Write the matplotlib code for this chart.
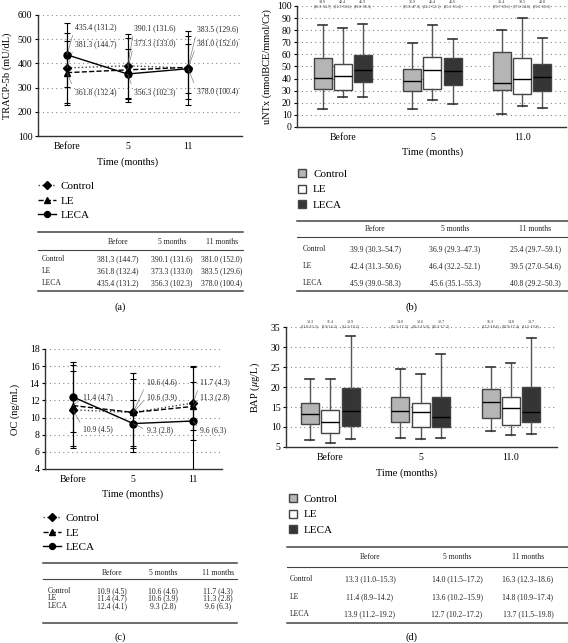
import matplotlib
matplotlib.use('Agg')
import matplotlib.pyplot as plt
from matplotlib.patches import Patch

plt.rcParams['font.family'] = ['Liberation Serif', 'DejaVu Serif']
plt.rcParams['mathtext.fontset'] = 'stix'

W, H = 568, 643

times = ['Before', '5', '11']
box_times = ['Before', '5', '11.0']
groups = ['Control', 'LE', 'LECA']
col_heads = ['Before', '5 months', '11 months']

# (a) TRACP-5b mean and SD; rows = Control, LE, LECA
tracp_mean = [[381.3, 390.1, 381.0], [361.8, 373.3, 383.5], [435.4, 356.3, 378.0]]
tracp_sd = [[144.7, 131.6, 152.0], [132.4, 133.0, 129.6], [131.2, 102.3, 100.4]]

# (c) OC mean and SD
oc_mean = [[10.9, 10.6, 11.7], [11.4, 10.6, 11.3], [12.4, 9.3, 9.6]]
oc_sd = [[4.5, 4.6, 4.3], [4.7, 3.9, 2.8], [4.1, 2.8, 6.3]]

# (b) uNTx median (IQR) as printed
ntx_med = [[39.9, 36.9, 25.4], [42.4, 46.4, 39.5], [45.9, 45.6, 40.8]]
ntx_lo = [[30.3, 29.3, 29.7], [31.3, 32.2, 27.0], [39.0, 35.1, 29.2]]
ntx_hi = [[54.7, 47.3, 59.1], [50.6, 52.1, 54.6], [58.3, 55.3, 50.3]]
# boxes as drawn: whisker low, q1, median, q3, whisker high
ntx_box = [
    [[14.6, 31.0, 40.5, 57.0, 84.6], [14.6, 29.8, 37.7, 47.9, 69.7], [11.0, 30.3, 36.6, 62.3, 80.4]],
    [[24.8, 30.9, 42.4, 52.0, 81.8], [22.0, 31.7, 46.8, 57.6, 84.6], [17.0, 27.0, 39.7, 57.3, 89.8]],
    [[24.8, 37.5, 47.1, 59.8, 84.8], [19.0, 35.0, 46.6, 56.7, 72.5], [16.0, 29.8, 41.6, 52.0, 73.6]],
]

# (d) BAP median (IQR) as printed
bap_med = [[13.3, 14.0, 16.3], [11.4, 13.6, 14.8], [13.9, 12.7, 13.7]]
bap_lo = [[11.0, 11.5, 12.3], [8.9, 10.2, 10.9], [11.2, 10.2, 11.5]]
bap_hi = [[15.3, 17.2, 18.6], [14.2, 15.9, 17.4], [19.2, 17.2, 19.8]]
bap_box = [
    [[6.7, 10.8, 13.2, 15.9, 22.1], [7.3, 11.3, 14.0, 17.6, 24.5], [8.9, 12.2, 16.2, 19.6, 25.1]],
    [[5.9, 8.6, 11.2, 14.2, 21.9], [7.1, 9.9, 13.7, 16.1, 23.3], [7.9, 10.6, 14.7, 17.4, 25.9]],
    [[7.1, 10.3, 14.0, 19.7, 32.7], [7.3, 10.0, 12.5, 17.6, 28.3], [8.2, 11.3, 13.7, 19.9, 32.2]],
]

fig = plt.figure(figsize=(W / 100, H / 100), dpi=100)


def rect(l, t, r, b):
    return [l / W, 1 - b / H, (r - l) / W, (b - t) / H]


# overlay in pixel coords for tables and captions
over = fig.add_axes([0, 0, 1, 1], zorder=-1)
over.set_xlim(0, W)
over.set_ylim(H, 0)
over.axis('off')


def style_axes(ax, box, yticks, ylabel, xlab_pos, ylab_x):
    l, t, r, b = box
    for s in ['top', 'right']:
        ax.spines[s].set_visible(False)
    for s in ['left', 'bottom']:
        ax.spines[s].set_color('#333333')
        ax.spines[s].set_linewidth(1)
    ax.set_yticks(yticks)
    ax.tick_params(axis='x', length=0, labelsize=7, pad=4)
    ax.tick_params(axis='y', length=2, labelsize=7, pad=2)
    for v in yticks[1:]:
        ax.axhline(v, color='#888888', ls=(0, (1, 3)), lw=0.8, zorder=0)
    ax.set_ylabel(ylabel, fontsize=7.5)
    ax.set_xlabel('Time (months)', fontsize=7.5)
    ax.yaxis.set_label_coords((ylab_x - l) / (r - l), 0.5)
    ax.xaxis.set_label_coords((xlab_pos[0] - l) / (r - l), (b - xlab_pos[1]) / (b - t))


def line_panel(box, mean, sd, ylim, yticks, ylabel, xlim, lab_y, lab_dx, xlab_pos, ylab_x, leg_pos):
    ax = fig.add_axes(rect(*box))
    specs = [('D', ':', '#444444', 4.5), ('^', '--', 'black', 5), ('o', '-', 'black', 5)]
    x = list(range(3))
    handles = []
    for g in range(3):
        mk, ls, lc, ms = specs[g]
        ax.errorbar(x, mean[g], yerr=sd[g], fmt='none', ecolor='black', elinewidth=0.8,
                    capsize=2, capthick=0.8, zorder=2)
        h, = ax.plot(x, mean[g], ls=ls, color=lc, lw=1, marker=mk, ms=ms,
                     mfc='black', mec='black', zorder=3)
        handles.append(h)
        for t in range(3):
            if lab_y[t][g] is None:
                continue
            ax.annotate(f'{mean[g][t]:.1f} ({sd[g][t]:.1f})', xy=(t, mean[g][t]),
                        xytext=(t + lab_dx[t], lab_y[t][g]), fontsize=5.5, va='center', ha='left',
                        color='#222222',
                        arrowprops=dict(arrowstyle='-', lw=0.4, color='#666666',
                                        shrinkA=1, shrinkB=0, relpos=(0, 0.5)))
    ax.set_xlim(*xlim)
    ax.set_ylim(*ylim)
    ax.set_xticks(x)
    ax.set_xticklabels(times)
    style_axes(ax, box, yticks, ylabel, xlab_pos, ylab_x)
    ax.legend(handles, groups, loc='upper left', bbox_to_anchor=(leg_pos[0] / W, 1 - leg_pos[1] / H),
              bbox_transform=fig.transFigure, frameon=False, fontsize=8, handlelength=1.6,
              handletextpad=0.4, labelspacing=0.45, borderpad=0, borderaxespad=0, markerscale=0.85)
    return ax


def box_panel(box, bx, med, lo, hi, ylim, yticks, ylabel, xlim, stat_y, xlab_pos, ylab_x, leg_pos):
    ax = fig.add_axes(rect(*box))
    fills = ['#b5b5b5', 'white', '#353535']
    offs = [-0.225, 0.0, 0.225]
    for g in range(3):
        stats = [dict(whislo=b[0], q1=b[1], med=b[2], q3=b[3], whishi=b[4], fliers=[]) for b in bx[g]]
        pos = [t + offs[g] for t in range(3)]
        ax.bxp(stats, positions=pos, widths=0.2, patch_artist=True, showfliers=False,
               manage_ticks=False,
               boxprops=dict(facecolor=fills[g], edgecolor='#444444', lw=1),
               medianprops=dict(color='black', lw=1),
               whiskerprops=dict(color='#555555', lw=1),
               capprops=dict(color='#333333', lw=1.2))
        for t in range(3):
            ax.text(pos[t], stat_y[0], f'{med[g][t]:.1f}', transform=ax.get_xaxis_transform(),
                    ha='center', va='center', fontsize=3, color='#333333')
            ax.text(pos[t], stat_y[1], f'({lo[g][t]:.1f}-{hi[g][t]:.1f})',
                    transform=ax.get_xaxis_transform(), ha='center', va='center', fontsize=3,
                    color='#333333')
    ax.set_xlim(*xlim)
    ax.set_ylim(*ylim)
    ax.set_xticks(range(3))
    ax.set_xticklabels(box_times)
    style_axes(ax, box, yticks, ylabel, xlab_pos, ylab_x)
    handles = [Patch(facecolor=fills[g], edgecolor='#444444', lw=1) for g in range(3)]
    ax.legend(handles, groups, loc='upper left', bbox_to_anchor=(leg_pos[0] / W, 1 - leg_pos[1] / H),
              bbox_transform=fig.transFigure, frameon=False, fontsize=8, handlelength=0.75,
              handleheight=0.75, handletextpad=0.6, labelspacing=0.5, borderpad=0, borderaxespad=0)
    return ax


def table(x0, x1, lab_x, col_x, lines_y, head_y, rows_y, cells, caption, cap_xy):
    widths = [1.1, 0.8, 1.1]
    for ly, lw in zip(lines_y, widths):
        over.plot([x0, x1], [ly, ly], color='#444444', lw=lw)
    for cx, h in zip(col_x, col_heads):
        over.text(cx, head_y, h, ha='center', va='center', fontsize=5.5, color='#222222')
    for g in range(3):
        over.text(lab_x, rows_y[g], groups[g], ha='left', va='center', fontsize=5.5, color='#222222')
        for t in range(3):
            over.text(col_x[t], rows_y[g], cells[g][t], ha='center', va='center', fontsize=5.5,
                      color='#222222')
    over.text(cap_xy[0], cap_xy[1], caption, ha='center', va='center', fontsize=7.5)


# (a)
box_a = (38, 15, 242, 136)
line_panel(box_a, tracp_mean, tracp_sd, (100, 600), list(range(100, 601, 100)), 'TRACP-5b (mU/dL)',
           (-0.48, 2.89),
           [[480, 282, 550], [546, 484, 282], [484, 542, 286]], [0.13, 0.11, 0.15],
           (128, 157), 12, (38, 181))
cells_a = [[f'{tracp_mean[g][t]:.1f} ({tracp_sd[g][t]:.1f})' for t in range(3)] for g in range(3)]
table(38, 243, 42, [118, 172, 222], [232, 250, 291], 242, [259, 271, 283], cells_a, '(a)', (120, 307))

# (b)
box_b = (297, 6, 566, 127)
box_panel(box_b, ntx_box, ntx_med, ntx_lo, ntx_hi, (0, 100), list(range(0, 101, 10)),
          'uNTx (nmolBCE/mmol/Cr)', (-0.51, 2.49), (1.035, 0.997), (433, 147), 272, (298, 169))
cells_b = [[f'{ntx_med[g][t]:.1f} ({ntx_lo[g][t]:.1f}\u2013{ntx_hi[g][t]:.1f})' for t in range(3)]
           for g in range(3)]
table(297, 568, 303, [375, 455, 535], [221, 237, 291], 229, [249, 266, 283], cells_b, '(b)', (412, 307))

# (c)
box_c = (45, 349, 222, 469)
line_panel(box_c, oc_mean, oc_sd, (4, 18), list(range(4, 19, 2)), 'OC (ng/mL)', (-0.47, 2.48),
           [[8.7, 12.4, None], [14.1, 12.4, 8.5], [14.1, 12.4, 8.5]], [0.17, 0.23, 0.12],
           (133, 489), 20, (43, 513))
cells_c = [[f'{oc_mean[g][t]:.1f} ({oc_sd[g][t]:.1f})' for t in range(3)] for g in range(3)]
table(43, 237, 48, [112, 163, 218], [563, 579, 623], 573, [591, 598, 606], cells_c, '(c)', (120, 637))

# (d)
box_d = (286, 327, 557, 447)
box_panel(box_d, bap_box, bap_med, bap_lo, bap_hi, (5, 35), list(range(5, 36, 5)),
          r'BAP ($\mu$g/L)', (-0.49, 2.51), (1.042, 1.008), (407, 468), 262, (289, 494))
cells_d = [[f'{bap_med[g][t]:.1f} ({bap_lo[g][t]:.1f}\u2013{bap_hi[g][t]:.1f})' for t in range(3)]
           for g in range(3)]
table(287, 568, 290, [370, 457, 528], [547, 567, 623], 557, [579, 597, 614], cells_d, '(d)', (412, 637))

fig.savefig('out.png', dpi=100)
